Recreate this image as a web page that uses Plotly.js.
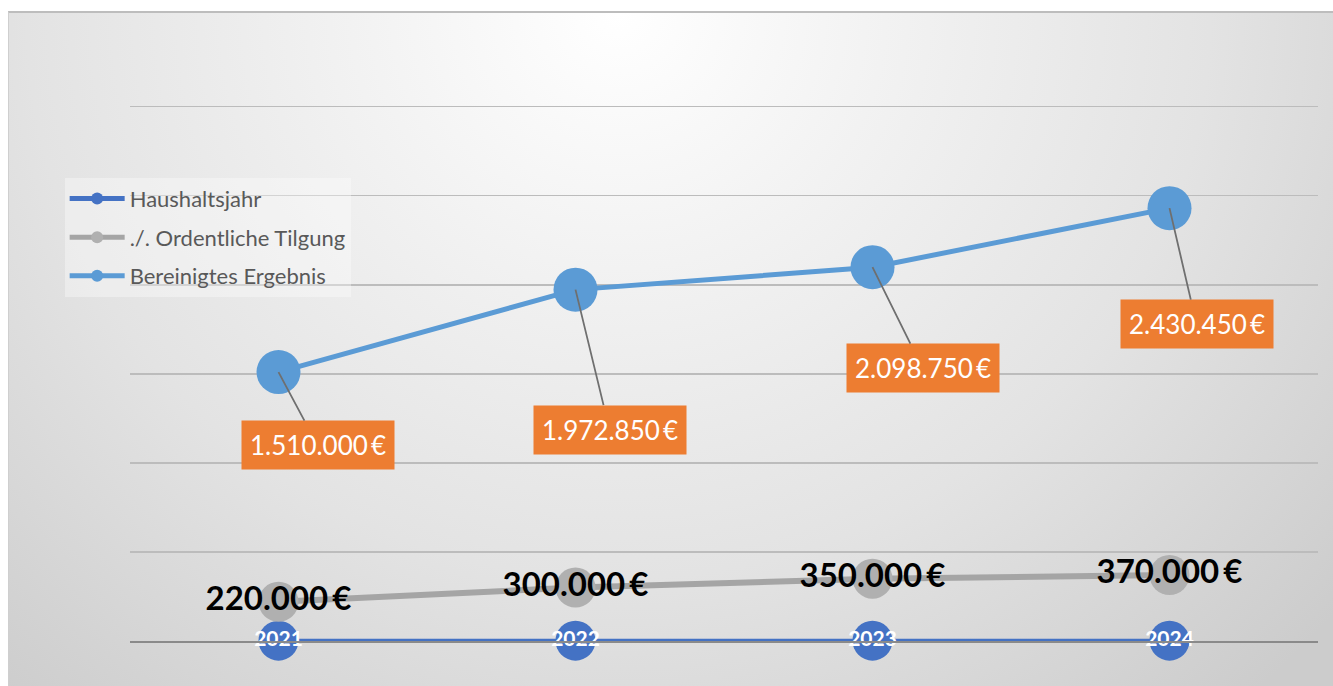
<!DOCTYPE html>
<html>
<head>
<meta charset="utf-8">
<script src="https://cdn.plot.ly/plotly-3.0.1.min.js"></script>
<style>
  html, body { margin: 0; padding: 0; background: #ffffff; }
  #wrap { position: relative; width: 1333px; height: 686px; overflow: hidden; background: #ffffff; }
  #bg { position: absolute; left: 8px; top: 11px; width: 1325px; height: 675px;
        border-top: 2px solid #bdbdbd; border-left: 1px solid #cfcfcf;
        background: radial-gradient(ellipse 72% 135% at 46% 0%, #ffffff 0%, #f2f2f2 28%, #e3e3e3 62%, #cccccc 100%); }
  #chart { position: absolute; left: 0; top: 0; width: 1333px; height: 686px; }
</style>
</head>
<body>
<div id="wrap">
  <div id="bg"></div>
  <div id="chart"></div>
</div>
<script>
// ---- data ----
const categories = ["2021", "2022", "2023", "2024"];
const haushaltsjahr = [2021, 2022, 2023, 2024];
const tilgung = [220000, 300000, 350000, 370000];
const bereinigt = [1510000, 1972850, 2098750, 2430450];
const seriesNames = ["Haushaltsjahr", "./. Ordentliche Tilgung", "Bereinigtes Ergebnis"];

function fmtEuro(v) {
  const s = String(Math.round(v)).replace(/\B(?=(\d{3})+(?!\d))/g, ".");
  return s + "\u2009€";
}

// callout offsets (pixels) for the orange labels
const calloutOffsets = [[39, 73], [34, 140], [50, 101], [27, 116]];

const FONT = "Lato, 'Open Sans', 'Liberation Sans', sans-serif";

const traces = [
  {
    type: "scatter", mode: "lines+markers+text", name: seriesNames[0],
    x: categories, y: haushaltsjahr,
    text: haushaltsjahr.map(String), textposition: "middle center",
    textfont: { family: FONT, size: 21, color: "#ffffff", weight: "bold" },
    line: { color: "#4472C4", width: 4 },
    marker: { color: "#4472C4", size: 40 },
    cliponaxis: false, legendgroup: "a", hoverinfo: "skip"
  },
  {
    type: "scatter", mode: "lines+markers+text", name: seriesNames[1],
    x: categories, y: tilgung,
    text: tilgung.map(fmtEuro), textposition: "middle center",
    textfont: { family: FONT, size: 33, color: "#000000", weight: "bold" },
    line: { color: "#A5A5A5", width: 6 },
    marker: { color: "#B0B0B0", size: 40 },
    cliponaxis: false, legendgroup: "b", hoverinfo: "skip"
  },
  {
    type: "scatter", mode: "lines+markers", name: seriesNames[2],
    x: categories, y: bereinigt,
    line: { color: "#5B9BD5", width: 5 },
    marker: { color: "#5B9BD5", size: 44 },
    cliponaxis: false, legendgroup: "c", hoverinfo: "skip"
  }
];

// annotations placed at the category index of each point (category axis)
const annotations = bereinigt.map((v, i) => ({
  x: categories.indexOf(categories[i]), y: v, xref: "x", yref: "y",
  text: fmtEuro(v), showarrow: true, arrowhead: 0, arrowwidth: 1.8,
  arrowcolor: "#6f6f6f", standoff: 0,
  ax: calloutOffsets[i][0], ay: calloutOffsets[i][1],
  bgcolor: "#ED7D31", borderpad: 8,
  font: { family: FONT, size: 26, color: "#ffffff" }
}));

const layout = {
  width: 1333, height: 686,
  margin: { l: 130, r: 15, t: 96, b: 45 },
  paper_bgcolor: "rgba(0,0,0,0)", plot_bgcolor: "rgba(0,0,0,0)",
  font: { family: FONT, color: "#595959" },
  showlegend: true,
  legend: {
    x: -0.055, xanchor: "left", y: 0.85, yanchor: "top",
    bgcolor: "rgba(255,255,255,0.35)", borderwidth: 0,
    font: { family: FONT, size: 22, color: "#595959" },
    itemsizing: "constant", itemwidth: 55, tracegroupgap: 7,
    traceorder: "grouped"
  },
  xaxis: {
    type: "category", range: [-0.5, 3.5], showticklabels: false,
    showgrid: false, zeroline: false, showline: true,
    linecolor: "#8a8a8a", linewidth: 2, ticks: "", fixedrange: true
  },
  yaxis: {
    range: [0, 3060000], tick0: 0, dtick: 500000, showticklabels: false,
    showgrid: true, gridcolor: "#bcbcbc", gridwidth: 1.5,
    zeroline: false, showline: false, ticks: "", fixedrange: true
  },
  annotations: annotations
};

Plotly.newPlot("chart", traces, layout, { displayModeBar: false, staticPlot: true });
</script>
</body>
</html>
